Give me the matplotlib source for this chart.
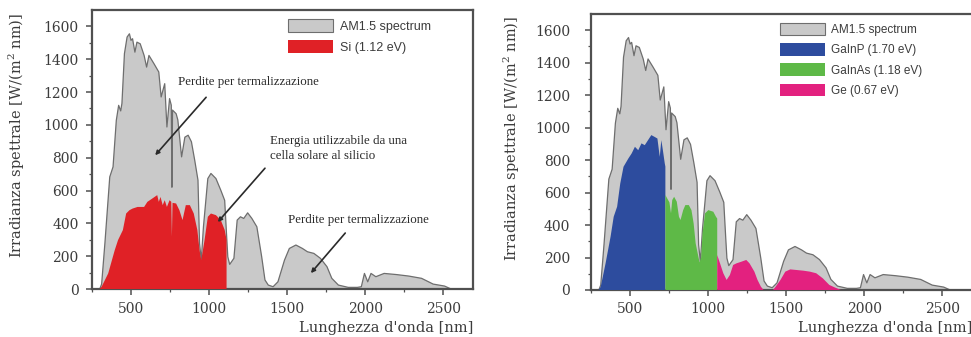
import matplotlib
matplotlib.use("Agg")
import matplotlib.pyplot as plt
from matplotlib.patches import Patch

# AM1.5 solar spectrum (wavelength nm, spectral irradiance W/(m^2 nm))
am15_wl = [300, 312, 333, 364, 385, 406, 421, 434, 442, 458, 475, 490, 500, 510,
           525, 538, 559, 584, 600, 615, 647, 678, 693, 716, 730, 747, 758, 762,
           766, 789, 800, 824, 845, 866, 887, 908, 929, 939, 950, 964, 992, 1012,
           1044, 1075, 1100, 1112, 1120, 1132, 1159, 1180, 1201, 1222, 1247, 1274,
           1306, 1337, 1358, 1379, 1410, 1441, 1483, 1514, 1556, 1598, 1630, 1671,
           1713, 1755, 1786, 1828, 1891, 1950, 1975, 1995, 2016, 2037, 2068, 2121,
           2200, 2278, 2361, 2435, 2508, 2550]
am15_irr = [0, 30, 280, 683, 744, 1028, 1119, 1085, 1131, 1434, 1535, 1555, 1515, 1525,
            1443, 1504, 1494, 1423, 1352, 1423, 1373, 1322, 1170, 1251, 987, 1160, 1120, 620,
            1090, 1068, 1030, 805, 925, 937, 897, 785, 663, 278, 176, 379, 673, 704,
            673, 602, 540, 330, 196, 150, 187, 420, 440, 430, 464, 430,
            379, 196, 55, 24, 14, 44, 176, 247, 268, 247, 227, 217,
            187, 136, 65, 24, 10, 10, 14, 95, 44, 95, 75, 95,
            88, 79, 65, 30, 18, 0]

# Silicon cell (1.12 eV): usable part of the spectrum
si_wl = [300, 312, 354, 396, 417, 448, 469, 490, 510, 542, 584, 605, 636, 668, 678,
         689, 703, 716, 730, 747, 758, 762, 766, 789, 810, 830, 851, 877, 902, 925,
         939, 950, 971, 992, 1012, 1044, 1075, 1100, 1112, 1112]
si_irr = [0, 14, 95, 237, 298, 359, 460, 480, 490, 500, 500, 531, 551, 572, 531,
          561, 511, 541, 500, 541, 531, 318, 525, 521, 480, 420, 511, 511, 460, 359,
          237, 176, 298, 440, 460, 450, 420, 360, 300, 0]

# Triple-junction subcells
gainp_wl = [300, 312, 343, 375, 395, 417, 437, 458, 489, 510, 531, 552, 573, 594, 615,
            636, 657, 675, 690, 700, 710, 722, 726, 726]
gainp_irr = [0, 20, 164, 328, 451, 513, 656, 759, 810, 841, 882, 861, 903, 892, 923,
             954, 943, 933, 820, 923, 861, 780, 760, 0]

gainas_wl = [726, 726, 740, 752, 762, 770, 782, 799, 813, 823, 840, 854, 876, 893, 907,
             920, 932, 945, 955, 964, 980, 1001, 1033, 1050, 1058, 1058]
gainas_irr = [0, 585, 560, 540, 472, 554, 574, 544, 451, 431, 492, 523, 523, 492, 410,
              287, 230, 170, 200, 350, 472, 492, 482, 451, 440, 0]

ge_wl = [1058, 1058, 1076, 1097, 1118, 1139, 1160, 1181, 1212, 1244, 1265, 1296, 1316,
         1338, 1355, 1415, 1432, 1463, 1494, 1526, 1567, 1609, 1651, 1692, 1734, 1776,
         1808, 1850]
ge_irr = [0, 215, 164, 103, 62, 92, 154, 164, 174, 185, 164, 113, 62,
          20, 0, 0, 20, 62, 113, 127, 123, 119, 113, 103, 72, 31,
          17, 0]

left_labels = ["AM1.5 spectrum", "Si (1.12 eV)"]
right_labels = ["AM1.5 spectrum", "GaInP (1.70 eV)", "GaInAs (1.18 eV)", "Ge (0.67 eV)"]
xticks = [500, 1000, 1500, 2000, 2500]
yticks = [0, 200, 400, 600, 800, 1000, 1200, 1400, 1600]

GREY = "#c9c9c9"
GREY_EDGE = "#6e6e6e"
RED = "#e02126"
BLUE = "#2d4c9e"
GREEN = "#5eb947"
PINK = "#e3217f"
SPINE = "#505050"
TXT = "#3c3c3c"

plt.rcParams["mathtext.fontset"] = "dejavuserif"

fig = plt.figure(figsize=(9.71, 3.37), dpi=100)
axL = fig.add_axes([0.0947, 0.1424, 0.3924, 0.828])
axR = fig.add_axes([0.6087, 0.1395, 0.3924, 0.819])


def style_axes(ax, lab_x, ypad, xlab_y):
    ax.set_xlim(300, 2690)
    ax.set_ylim(0, 1700)
    ax.set_xticks(xticks)
    ax.set_xticks(range(250, 2700, 250), minor=True)
    ax.set_yticks(yticks)
    ax.set_yticks(range(0, 1700, 100), minor=True)
    for s in ax.spines.values():
        s.set_color(SPINE)
        s.set_linewidth(1.6)
    ax.tick_params(which="major", direction="out", length=4, width=1.1, color=SPINE,
                   labelsize=10, labelcolor=TXT, pad=5)
    ax.tick_params(axis="y", which="major", pad=ypad)
    ax.tick_params(which="minor", direction="out", length=2.5, width=0.9, color=SPINE)
    ax.tick_params(axis="x", which="both", top=False)
    ax.tick_params(axis="y", which="both", right=False)
    for lab in ax.get_xticklabels() + ax.get_yticklabels():
        lab.set_family("DejaVu Serif")
    ax.set_ylabel("Irradianza spettrale [W/(m$^2$ nm)]", family="DejaVu Serif",
                  fontsize=10.5, color=TXT)
    ax.yaxis.set_label_coords(lab_x, 0.55)
    ax.set_xlabel("Lunghezza d'onda [nm]", family="DejaVu Serif", fontsize=10.5,
                  color=TXT, ha="right", va="center")
    ax.xaxis.set_label_coords(1.0, xlab_y)


def draw_am15(ax):
    ax.fill_between(am15_wl, am15_irr, 0, facecolor=GREY, edgecolor="none", zorder=1)
    ax.plot(am15_wl, am15_irr, color=GREY_EDGE, lw=0.9, zorder=2)


# Left panel: single-junction silicon
draw_am15(axL)
axL.fill_between(si_wl, si_irr, 0, facecolor=RED, edgecolor="none", zorder=3)
style_axes(axL, -0.171, 5.5, -0.14)

legL = axL.legend(handles=[Patch(facecolor=GREY, edgecolor=GREY_EDGE, lw=0.8),
                           Patch(facecolor=RED, edgecolor="none")],
                  labels=left_labels, loc="upper left", bbox_to_anchor=(0.514, 0.966),
                  frameon=False, borderpad=0, borderaxespad=0, handlelength=3.6,
                  handleheight=1.2, labelspacing=0.55, handletextpad=0.55,
                  prop={"family": "Liberation Sans", "size": 9})
for t in legL.get_texts():
    t.set_color(TXT)

note_kw = dict(family="Liberation Serif", fontsize=9.3, color="#2a2a2a")
arrow_kw = dict(arrowstyle="-|>", color="#2a2a2a", lw=1.2, mutation_scale=6,
                shrinkA=0, shrinkB=0)
axL.annotate("", xy=(655, 815), xytext=(981, 1168), arrowprops=arrow_kw, zorder=5)
axL.text(1251, 1259, "Perdite per termalizzazione", ha="center", va="center", **note_kw)
axL.annotate("", xy=(1056, 408), xytext=(1358, 736), arrowprops=arrow_kw, zorder=5)
axL.text(1388, 858, "Energia utilizzabile da una\ncella solare al silicio", ha="left",
         va="center", linespacing=1.3, **note_kw)
axL.annotate("", xy=(1652, 97), xytext=(1872, 341), arrowprops=arrow_kw, zorder=5)
axL.text(1954, 420, "Perdite per termalizzazione", ha="center", va="center", **note_kw)

# Right panel: triple-junction cell
draw_am15(axR)
axR.fill_between(gainp_wl, gainp_irr, 0, facecolor=BLUE, edgecolor="none", zorder=3)
axR.fill_between(gainas_wl, gainas_irr, 0, facecolor=GREEN, edgecolor="none", zorder=3)
axR.fill_between(ge_wl, ge_irr, 0, facecolor=PINK, edgecolor="none", zorder=3)
style_axes(axR, -0.181, 11, -0.138)

legR = axR.legend(handles=[Patch(facecolor=GREY, edgecolor=GREY_EDGE, lw=0.8),
                           Patch(facecolor=BLUE, edgecolor="none"),
                           Patch(facecolor=GREEN, edgecolor="none"),
                           Patch(facecolor=PINK, edgecolor="none")],
                  labels=right_labels, loc="upper left", bbox_to_anchor=(0.496, 0.968),
                  frameon=False, borderpad=0, borderaxespad=0, handlelength=3.8,
                  handleheight=1.25, labelspacing=0.6, handletextpad=0.5,
                  prop={"family": "Liberation Sans", "size": 8.5})
for t in legR.get_texts():
    t.set_color(TXT)

fig.savefig("out.png", dpi=100)
